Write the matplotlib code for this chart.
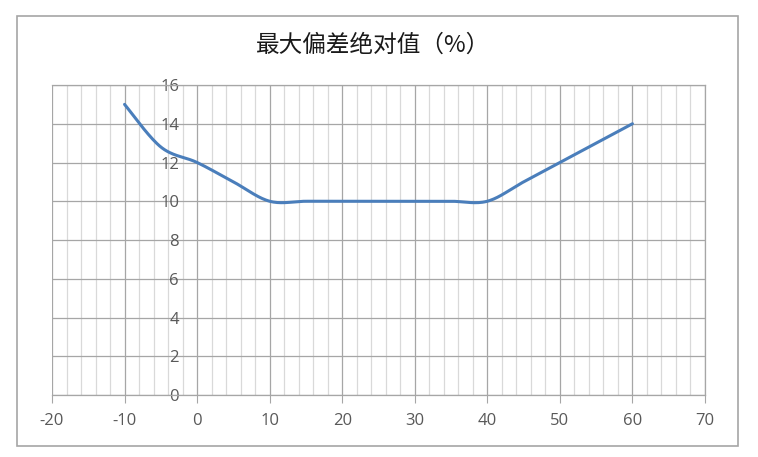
import numpy as np
import matplotlib.pyplot as plt
from matplotlib.patches import Rectangle
from matplotlib.ticker import MultipleLocator

plt.rcParams['font.family'] = ['Noto Sans CJK SC', 'DejaVu Sans']
plt.rcParams['axes.unicode_minus'] = False

# ---- data ----
temp = [-10, -5, 0, 5, 10, 15, 20, 25, 30, 35, 40, 45, 50, 55, 60]
dev = [15, 12.8, 12, 11, 10, 10, 10, 10, 10, 10, 10, 11, 12, 13, 14]
title = '最大偏差绝对值（%）'


def excel_smooth(x, y, n=30):
    # Catmull-Rom style bezier, roughly what Excel's "smoothed line" does
    p = np.column_stack([x, y]).astype(float)
    p = np.vstack([p[0], p, p[-1]])
    out = []
    for i in range(1, len(p) - 2):
        p0, p1, p2, p3 = p[i - 1], p[i], p[i + 1], p[i + 2]
        c1 = p1 + (p2 - p0) / 6.0
        c2 = p2 - (p3 - p1) / 6.0
        t = np.linspace(0, 1, n)[:, None]
        seg = ((1 - t) ** 3) * p1 + 3 * ((1 - t) ** 2) * t * c1 + 3 * (1 - t) * t ** 2 * c2 + t ** 3 * p2
        out.append(seg if i == 1 else seg[1:])
    s = np.vstack(out)
    return s[:, 0], s[:, 1]


fig = plt.figure(figsize=(7.58, 4.57), dpi=100)

# outer chart border
fig.patches.append(Rectangle((17 / 758, 1 - 446 / 457), 721 / 758, 430 / 457,
                             transform=fig.transFigure, fill=False,
                             edgecolor='#a6a6a6', linewidth=1.2))

ax = fig.add_axes([52 / 758, 1 - 395 / 457, 653 / 758, 310 / 457])

sx, sy = excel_smooth(temp, dev)
ax.plot(sx, sy, color='#4a7ebb', linewidth=2.2, solid_capstyle='round', zorder=3)

ax.set_xlim(-20, 70)
ax.set_ylim(0, 16)
ax.xaxis.set_major_locator(MultipleLocator(10))
ax.xaxis.set_minor_locator(MultipleLocator(2))
ax.yaxis.set_major_locator(MultipleLocator(2))

ax.grid(which='major', color='#a6a6a6', linewidth=0.9)
ax.grid(which='minor', axis='x', color='#d9d9d9', linewidth=0.9)
ax.set_axisbelow(True)

for s in ['top', 'right', 'bottom']:
    ax.spines[s].set_color('#a6a6a6')
    ax.spines[s].set_linewidth(0.9)
ax.spines['left'].set_position(('data', 0))
ax.spines['left'].set_visible(False)

ax.tick_params(axis='x', which='major', direction='out', length=6, color='#a6a6a6',
               labelsize=12, labelcolor='#595959', pad=7)
ax.tick_params(axis='x', which='minor', length=0)
ax.tick_params(axis='y', which='major', length=0, labelsize=12, labelcolor='#595959', pad=13)
for lab in ax.get_xticklabels() + ax.get_yticklabels():
    lab.set_family(['Open Sans', 'DejaVu Sans'])

fig.text(373 / 758, 1 - 45 / 457, title, ha='center', va='center', fontsize=17, color='#1a1a1a')

fig.savefig('out.png', dpi=100)
